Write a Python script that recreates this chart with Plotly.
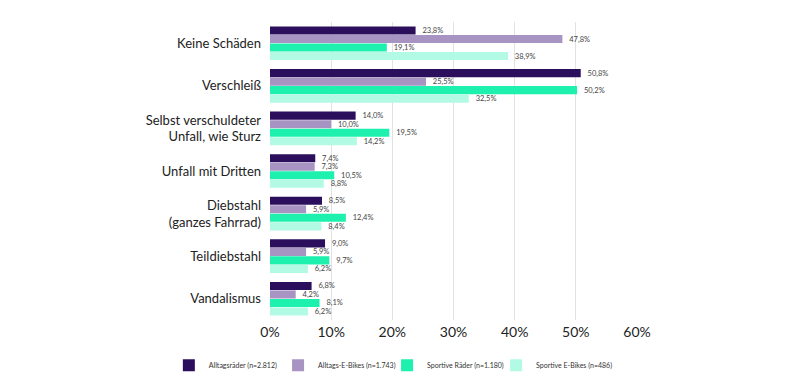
import plotly.graph_objects as go

categories = [
    "Keine Schäden",
    "Verschleiß",
    "Selbst verschuldeter<br>Unfall, wie Sturz",
    "Unfall mit Dritten",
    "Diebstahl<br>(ganzes Fahrrad)",
    "Teildiebstahl",
    "Vandalismus",
]

series_names = [
    "Alltagsräder (n=2.812)",
    "Alltags-E-Bikes (n=1.743)",
    "Sportive Räder (n=1.180)",
    "Sportive E-Bikes (n=486)",
]

alltagsraeder = [23.8, 50.8, 14.0, 7.4, 8.5, 9.0, 6.8]
alltags_ebikes = [47.8, 25.5, 10.0, 7.3, 5.9, 5.9, 4.2]
sportive_raeder = [19.1, 50.2, 19.5, 10.5, 12.4, 9.7, 8.1]
sportive_ebikes = [38.9, 32.5, 14.2, 8.8, 8.4, 6.2, 6.2]

tick_vals = [0, 10, 20, 30, 40, 50, 60]
tick_text = ["0%", "10%", "20%", "30%", "40%", "50%", "60%"]

colors = ["#2b0f5c", "#a794c2", "#1ef0ad", "#b3fae4"]

series_values = [alltagsraeder, alltags_ebikes, sportive_raeder, sportive_ebikes]

legend_ids = ["legend", "legend2", "legend3", "legend4"]
legend_x = [0.035, 0.022, 0.319, 0.616]
legend_anchor = ["right", "left", "left", "left"]

FONT = "Lato"

fig = go.Figure()
for name, vals, col, lid in zip(series_names, series_values, colors, legend_ids):
    fig.add_trace(go.Bar(
        y=categories,
        x=vals,
        name=name,
        orientation="h",
        marker=dict(color=col, line=dict(width=0)),
        text=["  " + f"{v:.1f}%".replace(".", ",") for v in vals],
        textposition="outside",
        textfont=dict(size=7.5, color="#444444", family=FONT),
        cliponaxis=False,
        legend=lid,
        showlegend=True,
    ))

legend_common = dict(
    orientation="h",
    y=-0.152,
    yanchor="middle",
    font=dict(size=7, color="#333333", family=FONT),
    itemwidth=30,
    bgcolor="rgba(0,0,0,0)",
)

layout_legends = {}
for lid, lx, la in zip(legend_ids, legend_x, legend_anchor):
    layout_legends[lid] = dict(legend_common, x=lx, xanchor=la)

fig.update_layout(
    width=800,
    height=383,
    showlegend=True,
    paper_bgcolor="#ffffff",
    plot_bgcolor="#ffffff",
    barmode="group",
    bargap=0.2,
    bargroupgap=0.05,
    margin=dict(l=270, r=163, t=22, b=63, autoexpand=False),
    font=dict(family=FONT, color="#222222"),
    uniformtext=dict(minsize=7, mode="show"),
    xaxis=dict(
        range=[0, 60],
        tickvals=tick_vals,
        ticktext=tick_text,
        showgrid=True,
        gridcolor="#e2e2e2",
        gridwidth=1,
        zeroline=False,
        showline=False,
        tickfont=dict(size=14, color="#222222", family=FONT),
        ticks="",
        ticklabelstandoff=2,
        automargin=False,
    ),
    yaxis=dict(
        autorange="reversed",
        showgrid=False,
        showline=False,
        ticks="",
        tickfont=dict(size=13, color="#222222", family=FONT),
        ticklabelstandoff=8,
        automargin=False,
    ),
    **layout_legends,
)

fig.write_html(
    "out.html",
    config={"displayModeBar": False},
    post_script="document.body.style.margin='0px';document.body.style.overflow='hidden';",
)
